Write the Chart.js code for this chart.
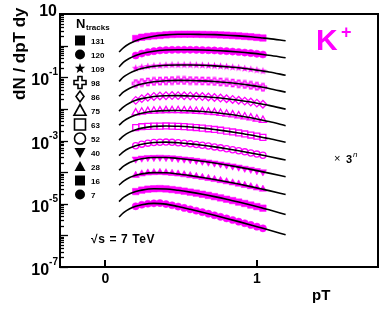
<!DOCTYPE html>
<html>
<head>
<meta charset="utf-8">
<script src="https://cdn.jsdelivr.net/npm/chart.js@4.4.1/dist/chart.umd.min.js"></script>
<style>
  html, body { margin: 0; padding: 0; background: #fff; }
  #wrap { width: 390px; height: 310px; }
</style>
</head>
<body>
<div id="wrap"><canvas id="spectra" width="390" height="310"></canvas></div>
<script>
// K+ spectra per multiplicity class (scaled by 3^n), with fits

const N_TRACKS = ['131', '120', '109', '98', '86', '75', '63', '52', '40', '28', '16', '7'];

// pT of the measured points and of the fit curves
const PT_DATA = [0.20, 0.24, 0.28, 0.32, 0.36, 0.40, 0.44, 0.48, 0.52, 0.56, 0.60,
                 0.64, 0.68, 0.72, 0.76, 0.80, 0.84, 0.88, 0.92, 0.96, 1.00, 1.04];
const PT_FIT = [0.09, 0.12, 0.16, 0.20, 0.24, 0.32, 0.40, 0.48, 0.56, 0.64, 0.72,
                0.80, 0.88, 0.96, 1.04, 1.08, 1.19];

const DATA_131 = [1.68, 1.84, 1.95, 2.04, 2.10, 2.19, 2.25, 2.28, 2.29, 2.29, 2.28, 2.26, 2.24, 2.22, 2.18, 2.14, 2.08, 2.03, 1.96, 1.90, 1.82, 1.74];
const DATA_120 = [0.488, 0.562, 0.621, 0.667, 0.703, 0.724, 0.736, 0.741, 0.741, 0.738, 0.733, 0.724, 0.714, 0.703, 0.687, 0.670, 0.650, 0.628, 0.604, 0.579, 0.552, 0.524];
const DATA_109 = [0.193, 0.208, 0.219, 0.227, 0.233, 0.240, 0.244, 0.245, 0.245, 0.244, 0.242, 0.239, 0.234, 0.229, 0.223, 0.216, 0.208, 0.199, 0.189, 0.179, 0.168, 0.157];
const DATA_98 = [0.0634, 0.0682, 0.0714, 0.0738, 0.0757, 0.0778, 0.0789, 0.0794, 0.0792, 0.0789, 0.0782, 0.0769, 0.0753, 0.0735, 0.0711, 0.0685, 0.0656, 0.0624, 0.0590, 0.0555, 0.0518, 0.0480];
const DATA_86 = [0.0186, 0.0211, 0.0232, 0.0247, 0.0256, 0.0261, 0.0263, 0.0262, 0.0260, 0.0256, 0.0251, 0.0245, 0.0238, 0.0229, 0.0220, 0.0209, 0.0199, 0.0187, 0.0176, 0.0164, 0.0152, 0.0140];
const DATA_75 = [0.00752, 0.00802, 0.00836, 0.00857, 0.00867, 0.00883, 0.00891, 0.00889, 0.00879, 0.00867, 0.00847, 0.00824, 0.00796, 0.00764, 0.00728, 0.00690, 0.00650, 0.00608, 0.00565, 0.00522, 0.00480, 0.00438];
const DATA_63 = [0.00257, 0.00273, 0.00281, 0.00286, 0.00286, 0.00288, 0.00286, 0.00281, 0.00275, 0.00267, 0.00257, 0.00247, 0.00235, 0.00223, 0.00211, 0.00198, 0.00186, 0.00173, 0.00161, 0.00149, 0.00137, 0.00125];
const DATA_52 = [6.84e-4, 7.66e-4, 8.24e-4, 8.63e-4, 8.83e-4, 8.91e-4, 8.75e-4, 8.49e-4, 8.18e-4, 7.83e-4, 7.45e-4, 7.06e-4, 6.67e-4, 6.27e-4, 5.86e-4, 5.47e-4, 5.09e-4, 4.72e-4, 4.37e-4, 4.03e-4, 3.71e-4, 3.40e-4];
const DATA_40 = [2.58e-4, 2.77e-4, 2.89e-4, 2.91e-4, 2.95e-4, 2.90e-4, 2.82e-4, 2.71e-4, 2.59e-4, 2.47e-4, 2.34e-4, 2.21e-4, 2.07e-4, 1.94e-4, 1.81e-4, 1.68e-4, 1.56e-4, 1.44e-4, 1.32e-4, 1.22e-4, 1.11e-4, 1.02e-4];
const DATA_28 = [7.93e-5, 8.79e-5, 9.38e-5, 9.66e-5, 9.77e-5, 9.53e-5, 9.16e-5, 8.73e-5, 8.26e-5, 7.76e-5, 7.28e-5, 6.79e-5, 6.31e-5, 5.86e-5, 5.41e-5, 4.98e-5, 4.57e-5, 4.19e-5, 3.83e-5, 3.48e-5, 3.16e-5, 2.87e-5];
const DATA_16 = [2.43e-5, 2.70e-5, 2.89e-5, 2.98e-5, 3.02e-5, 2.94e-5, 2.81e-5, 2.66e-5, 2.50e-5, 2.33e-5, 2.17e-5, 2.00e-5, 1.84e-5, 1.68e-5, 1.53e-5, 1.39e-5, 1.26e-5, 1.13e-5, 1.02e-5, 9.10e-6, 8.13e-6, 7.24e-6];
const DATA_7 = [8.32e-6, 9.31e-6, 1.00e-5, 1.03e-5, 1.05e-5, 9.75e-6, 8.95e-6, 8.17e-6, 7.40e-6, 6.68e-6, 6.01e-6, 5.41e-6, 4.84e-6, 4.33e-6, 3.86e-6, 3.44e-6, 3.06e-6, 2.72e-6, 2.42e-6, 2.14e-6, 1.89e-6, 1.67e-6];

const FIT_131 = [0.627, 0.869, 1.167, 1.432, 1.656, 1.991, 2.19, 2.28, 2.29, 2.26, 2.22, 2.14, 2.03, 1.90, 1.74, 1.66, 1.42];
const FIT_120 = [0.213, 0.299, 0.398, 0.488, 0.562, 0.667, 0.724, 0.741, 0.738, 0.724, 0.703, 0.670, 0.628, 0.579, 0.524, 0.495, 0.413];
const FIT_109 = [0.0738, 0.102, 0.135, 0.164, 0.188, 0.222, 0.240, 0.245, 0.244, 0.239, 0.229, 0.216, 0.199, 0.179, 0.157, 0.147, 0.116];
const FIT_98 = [0.0252, 0.0344, 0.0448, 0.0540, 0.0615, 0.0721, 0.0778, 0.0794, 0.0789, 0.0769, 0.0735, 0.0685, 0.0624, 0.0555, 0.0480, 0.0442, 0.0339];
const FIT_86 = [0.00851, 0.0116, 0.0154, 0.0186, 0.0211, 0.0247, 0.0261, 0.0262, 0.0256, 0.0245, 0.0229, 0.0209, 0.0187, 0.0164, 0.0140, 0.0129, 0.00982];
const FIT_75 = [0.00303, 0.00407, 0.00533, 0.00640, 0.00723, 0.00838, 0.00883, 0.00889, 0.00867, 0.00824, 0.00764, 0.00690, 0.00608, 0.00522, 0.00438, 0.00397, 0.00294];
const FIT_63 = [0.00103, 0.00140, 0.00184, 0.00219, 0.00246, 0.00279, 0.00288, 0.00281, 0.00267, 0.00247, 0.00223, 0.00198, 0.00173, 0.00149, 0.00125, 0.00115, 0.000877];
const FIT_52 = [3.31e-4, 4.47e-4, 5.78e-4, 6.84e-4, 7.66e-4, 8.63e-4, 8.91e-4, 8.49e-4, 7.83e-4, 7.06e-4, 6.27e-4, 5.47e-4, 4.72e-4, 4.03e-4, 3.40e-4, 3.11e-4, 2.41e-4];
const FIT_40 = [1.15e-4, 1.54e-4, 2.02e-4, 2.38e-4, 2.64e-4, 2.91e-4, 2.90e-4, 2.71e-4, 2.47e-4, 2.21e-4, 1.94e-4, 1.68e-4, 1.44e-4, 1.22e-4, 1.02e-4, 9.29e-5, 7.11e-5];
const FIT_28 = [3.89e-5, 5.20e-5, 6.75e-5, 7.93e-5, 8.79e-5, 9.66e-5, 9.53e-5, 8.73e-5, 7.76e-5, 6.79e-5, 5.86e-5, 4.98e-5, 4.19e-5, 3.48e-5, 2.87e-5, 2.60e-5, 1.95e-5];
const FIT_16 = [1.17e-5, 1.58e-5, 2.07e-5, 2.43e-5, 2.70e-5, 2.98e-5, 2.94e-5, 2.66e-5, 2.33e-5, 2.00e-5, 1.68e-5, 1.39e-5, 1.13e-5, 9.10e-6, 7.24e-6, 6.44e-6, 4.57e-6];
const FIT_7 = [3.81e-6, 5.24e-6, 6.98e-6, 8.32e-6, 9.31e-6, 1.03e-5, 9.75e-6, 8.17e-6, 6.68e-6, 5.41e-6, 4.33e-6, 3.44e-6, 2.72e-6, 2.14e-6, 1.67e-6, 1.48e-6, 1.04e-6];

const Y_LABEL_EXP = [1, -1, -3, -5, -7];
const X_TICKS = [0, 1];

const DATA = [DATA_131, DATA_120, DATA_109, DATA_98, DATA_86, DATA_75, DATA_63, DATA_52, DATA_40, DATA_28, DATA_16, DATA_7];
const FITS = [FIT_131, FIT_120, FIT_109, FIT_98, FIT_86, FIT_75, FIT_63, FIT_52, FIT_40, FIT_28, FIT_16, FIT_7];

const MAGENTA = '#ff00ff';
const FONT = '"Liberation Sans", Arial, Helvetica, sans-serif';

// shape drawing shared by legend and custom point images
function drawShape(g, kind, cx, cy, s, color, filled, lw) {
  const h = s / 2;
  g.save();
  g.beginPath();
  if (kind === 'circle') {
    g.arc(cx, cy, h, 0, Math.PI * 2);
  } else if (kind === 'square') {
    g.rect(cx - h, cy - h, s, s);
  } else if (kind === 'diamond') {
    g.moveTo(cx, cy - h * 1.1); g.lineTo(cx + h * 0.8, cy); g.lineTo(cx, cy + h * 1.1); g.lineTo(cx - h * 0.8, cy); g.closePath();
  } else if (kind === 'triangle') {
    g.moveTo(cx, cy - h); g.lineTo(cx + h, cy + h * 0.8); g.lineTo(cx - h, cy + h * 0.8); g.closePath();
  } else if (kind === 'triangleDown') {
    g.moveTo(cx, cy + h); g.lineTo(cx + h, cy - h * 0.8); g.lineTo(cx - h, cy - h * 0.8); g.closePath();
  } else if (kind === 'star') {
    for (let i = 0; i < 10; i++) {
      const r = i % 2 ? h * 0.42 : h;
      const a = -Math.PI / 2 + i * Math.PI / 5;
      g.lineTo(cx + r * Math.cos(a), cy + r * Math.sin(a));
    }
    g.closePath();
  } else if (kind === 'cross') {
    const a = s / 6;
    g.moveTo(cx - a, cy - h); g.lineTo(cx + a, cy - h); g.lineTo(cx + a, cy - a); g.lineTo(cx + h, cy - a);
    g.lineTo(cx + h, cy + a); g.lineTo(cx + a, cy + a); g.lineTo(cx + a, cy + h); g.lineTo(cx - a, cy + h);
    g.lineTo(cx - a, cy + a); g.lineTo(cx - h, cy + a); g.lineTo(cx - h, cy - a); g.lineTo(cx - a, cy - a);
    g.closePath();
  }
  if (filled) { g.fillStyle = color; g.fill(); }
  else { g.strokeStyle = color; g.lineWidth = lw; g.stroke(); }
  g.restore();
}

function pointImage(kind, s, filled) {
  const c = document.createElement('canvas');
  c.width = c.height = Math.ceil(s + 3);
  drawShape(c.getContext('2d'), kind, c.width / 2, c.height / 2, s, MAGENTA, filled, 1.3);
  return c;
}

// data marker per series, legend marker per series
const MARKERS = [
  { style: 'rect', r: 4.6, fill: true },
  { style: 'circle', r: 3.6, fill: true },
  { style: pointImage('star', 8, true), r: 4, fill: true },
  { style: pointImage('cross', 7, false), r: 4, fill: false },
  { style: 'rectRot', r: 3.8, fill: false },
  { style: 'triangle', r: 4.2, fill: false },
  { style: 'rect', r: 4.2, fill: false },
  { style: 'circle', r: 3.1, fill: false },
  { style: 'triangle', r: 4.2, fill: true, rot: 180 },
  { style: 'triangle', r: 4.2, fill: true },
  { style: 'rect', r: 4.6, fill: true },
  { style: 'circle', r: 3.6, fill: true },
];
const LEGEND_SHAPES = [
  ['square', 10, true], ['circle', 10, true], ['star', 11, true], ['cross', 12, false],
  ['diamond', 10, false], ['triangle', 12, false], ['square', 11, false], ['circle', 11, false],
  ['triangleDown', 11, true], ['triangle', 11, true], ['square', 10, true], ['circle', 10, true],
];

const datasets = [];
N_TRACKS.forEach((n, i) => {
  datasets.push({
    label: 'fit ' + n,
    data: PT_FIT.map((x, j) => ({ x, y: FITS[i][j] })),
    showLine: true,
    borderColor: '#000',
    borderWidth: 1.6,
    pointRadius: 0,
    cubicInterpolationMode: 'monotone',
    order: 0,
  });
  const m = MARKERS[i];
  datasets.push({
    label: n,
    data: PT_DATA.map((x, j) => ({ x, y: DATA[i][j] })),
    showLine: false,
    pointStyle: m.style,
    pointRadius: m.r,
    pointRotation: m.rot || 0,
    backgroundColor: m.fill ? MAGENTA : 'rgba(0,0,0,0)',
    borderColor: MAGENTA,
    borderWidth: m.fill ? 0.5 : 1.3,
    order: 1,
  });
});

// frame, inward ticks, labels, legend and annotations
const decor = {
  id: 'decor',
  afterDraw(chart) {
    const { ctx, chartArea: a, scales: { x, y } } = chart;
    ctx.save();
    ctx.strokeStyle = '#000';
    ctx.fillStyle = '#000';

    // y ticks
    ctx.lineWidth = 1.3;
    for (let e = -7; e < 1; e++) {
      for (let k = 1; k < 10; k++) {
        const py = Math.round(y.getPixelForValue(k * Math.pow(10, e))) + 0.5;
        const len = k === 1 ? 8 : 4;
        ctx.beginPath(); ctx.moveTo(a.left, py); ctx.lineTo(a.left + len, py); ctx.stroke();
      }
    }
    // x ticks
    ctx.lineWidth = 2;
    X_TICKS.forEach(v => {
      const px = Math.round(x.getPixelForValue(v));
      ctx.beginPath(); ctx.moveTo(px, a.bottom); ctx.lineTo(px, a.bottom - 7); ctx.stroke();
    });
    // frame
    ctx.lineWidth = 2;
    ctx.strokeRect(a.left, a.top, a.right - a.left, a.bottom - a.top);

    // y labels
    ctx.textAlign = 'right';
    ctx.textBaseline = 'alphabetic';
    Y_LABEL_EXP.forEach(e => {
      const py = y.getPixelForValue(Math.pow(10, e));
      if (e === 1) {
        ctx.font = 'bold 16px ' + FONT;
        ctx.fillText('10', 57, py + 2);
        return;
      }
      ctx.font = 'bold 10px ' + FONT;
      const ex = String(e);
      const w = ctx.measureText(ex).width;
      ctx.fillText(ex, 58, py - 2);
      ctx.font = 'bold 16px ' + FONT;
      ctx.fillText('10', 58 - w, py + 8);
    });

    // x labels
    ctx.textAlign = 'center';
    ctx.font = 'bold 14px ' + FONT;
    X_TICKS.forEach(v => ctx.fillText(String(v), x.getPixelForValue(v), 283));

    // axis titles
    ctx.textAlign = 'left';
    ctx.font = 'bold 15px ' + FONT;
    ctx.fillText('pT', 312, 300);
    ctx.save();
    ctx.translate(25, 100);
    ctx.rotate(-Math.PI / 2);
    ctx.font = 'bold 17px ' + FONT;
    ctx.fillText('dN / dpT dy', 0, 0);
    ctx.restore();

    // legend
    ctx.font = 'bold 13px ' + FONT;
    ctx.fillText('N', 76, 28);
    ctx.font = 'bold 8px ' + FONT;
    ctx.fillText('tracks', 86, 30);
    N_TRACKS.forEach((n, i) => {
      const ly = 40.5 + 14 * i;
      const [kind, s, filled] = LEGEND_SHAPES[i];
      drawShape(ctx, kind, 80, ly, s, '#000', filled, 1.6);
      ctx.fillStyle = '#000';
      ctx.font = 'bold 8px ' + FONT;
      ctx.textBaseline = 'middle';
      ctx.fillText(n, 91, ly + 1);
      ctx.textBaseline = 'alphabetic';
    });

    // annotations
    ctx.font = 'bold 12px ' + FONT;
    ctx.letterSpacing = '0.6px';
    ctx.fillText('\u221As = 7 TeV', 91, 243);
    ctx.letterSpacing = '0px';

    ctx.font = '11px ' + FONT;
    ctx.fillText('\u00D7', 334, 162);
    ctx.font = 'bold 11px ' + FONT;
    ctx.fillText('3', 346, 163);
    ctx.font = 'italic 8px ' + FONT;
    ctx.fillText('n', 353, 157);

    ctx.fillStyle = MAGENTA;
    ctx.font = 'bold 30px ' + FONT;
    ctx.fillText('K', 316, 50);
    ctx.font = 'bold 18px ' + FONT;
    ctx.fillText('+', 341, 38);
    ctx.restore();
  },
};

new Chart(document.getElementById('spectra'), {
  type: 'scatter',
  data: { datasets },
  options: {
    animation: false,
    responsive: false,
    devicePixelRatio: 1,
    layout: { padding: { top: 14, right: 12, left: 0, bottom: 0 } },
    plugins: { legend: { display: false }, tooltip: { enabled: false } },
    scales: {
      x: {
        type: 'linear', min: -0.3, max: 1.8,
        grid: { display: false }, border: { display: false },
        ticks: { display: false },
        afterFit: s => { s.height = 43; },
      },
      y: {
        type: 'logarithmic', min: 1e-7, max: 10,
        grid: { display: false }, border: { display: false },
        ticks: { display: false },
        afterFit: s => { s.width = 60; },
      },
    },
  },
  plugins: [decor],
});
</script>
</body>
</html>
